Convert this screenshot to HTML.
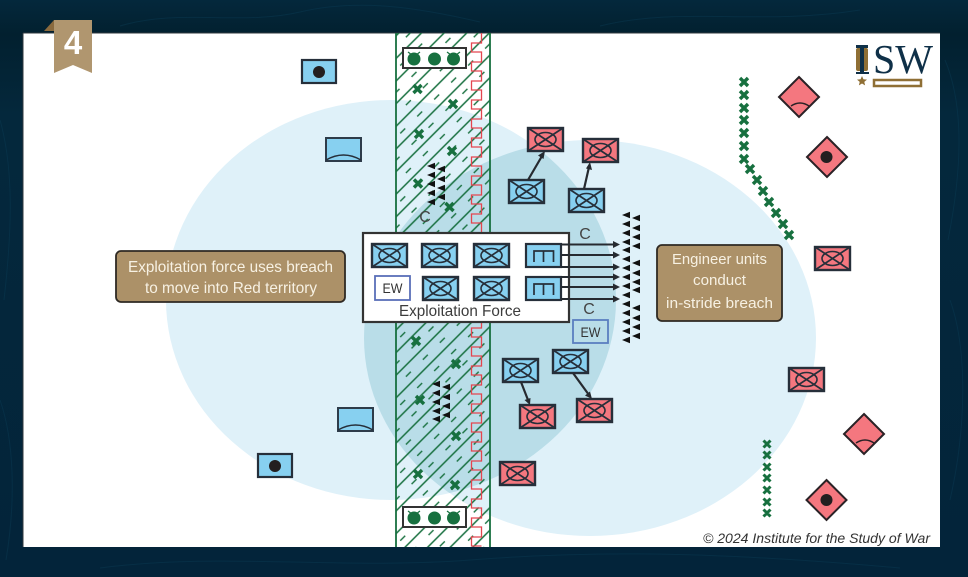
<!DOCTYPE html>
<html>
<head>
<meta charset="utf-8">
<style>
html,body{margin:0;padding:0;background:#03263a;width:968px;height:577px;overflow:hidden}
svg{display:block}
text{font-family:"Liberation Sans",sans-serif}
</style>
</head>
<body>
<svg width="968" height="577" viewBox="0 0 968 577" xmlns="http://www.w3.org/2000/svg">
<defs>
<linearGradient id="bg" x1="0" y1="0" x2="0" y2="1">
  <stop offset="0" stop-color="#04283c"/><stop offset="0.06" stop-color="#02202f"/><stop offset="0.2" stop-color="#04283c"/><stop offset="1" stop-color="#03243a"/>
</linearGradient>
<clipPath id="ov"><ellipse cx="391" cy="300" rx="225" ry="200"/></clipPath>
<pattern id="hatch" patternUnits="userSpaceOnUse" width="24" height="16" patternTransform="translate(396 33) rotate(-45)">
  <path d="M0 2H24" stroke="#17703f" stroke-width="1.4" fill="none"/>
  <path d="M4 10H11" stroke="#17703f" stroke-width="1.4" fill="none"/>
</pattern>
<g id="u">
  <rect x="0" y="0" width="35" height="23" stroke="#262f3a" stroke-width="2.4"/>
  <path d="M0 0L35 23M35 0L0 23" stroke="#262f3a" stroke-width="1.7" fill="none"/>
  <ellipse cx="17.5" cy="11.5" rx="10.5" ry="7" fill="none" stroke="#262f3a" stroke-width="1.6"/>
</g>
<g id="e">
  <rect x="0" y="0" width="35" height="23" fill="#87d0f0" stroke="#262f3a" stroke-width="2.2"/>
  <path d="M8 18V7H27.500V18M17.500 7V18" fill="none" stroke="#262f3a" stroke-width="1.7"/>
</g>
<g id="m">
  <rect x="0" y="0" width="63" height="20" fill="#fff" stroke="#333" stroke-width="2"/>
  <circle cx="11" cy="11" r="6.500" fill="#17703f"/><circle cx="31.500" cy="11" r="6.500" fill="#17703f"/><circle cx="50.500" cy="11" r="6.500" fill="#17703f"/>
  <path d="M5 4L9 7M17 4L13 7M44 4L48 7M57 4L53 7" stroke="#17703f" stroke-width="1.2" fill="none"/>
</g>
<g id="d">
  <path d="M0 -20L20 0L0 20L-20 0Z" fill="#f4777f" stroke="#2a2226" stroke-width="2"/>
</g>
</defs>

<rect width="968" height="577" fill="url(#bg)"/>
<g fill="none" stroke="#0d3f57" stroke-width="1" opacity=".4">
  <path d="M0 120C14 170 12 230 4 300"/>
  <path d="M0 400C14 440 16 500 6 560"/>
  <path d="M945 60C966 110 960 180 948 240"/>
  <path d="M950 300C968 350 966 430 950 500"/>
  <path d="M100 568C220 552 340 570 470 560S720 552 900 568"/>
  <path d="M120 26C180 8 240 26 300 12S420 8 480 22"/>
  <path d="M600 26C680 6 760 26 860 10"/>
</g>

<rect x="23" y="33" width="917" height="514" fill="#fff"/>
<path d="M23 33H940" stroke="#30383e" stroke-width="1"/>
<path d="M23 33V547" stroke="#30383e" stroke-width="1"/>

<ellipse cx="391" cy="300" rx="225" ry="200" fill="#dff1f9"/>
<ellipse cx="590" cy="338" rx="226" ry="198" fill="#dff1f9"/>
<ellipse cx="590" cy="338" rx="226" ry="198" fill="#b9dde8" clip-path="url(#ov)"/>

<!-- breach strip -->
<rect x="396" y="33" width="94" height="514" fill="url(#hatch)"/>
<path d="M396 33V547M490 33V547" stroke="#17703f" stroke-width="1.8" fill="none"/>
<path d="M481.500 33v10h-10v9h10v10h-10v9h10v10h-10v9h10v10h-10v9h10v10h-10v9h10v10h-10v9h10v10h-10v9h10v10h-10v9h10v10h-10v9h10v10h-10v9h10v10h-10v9h10v10h-10v9h10v10h-10v9h10v10h-10v9h10v10h-10v9h10v10h-10v9h10v10h-10v9h10v10h-10v9h10v10h-10v9h10v10h-10v9h10v10h-10v9h10v10h-10v9h10v10h-10v9h10v10h-10v9h10v10h-10v9h10v10h-10v9h10v10h-10v9h10" fill="none" stroke="#e4454f" stroke-width="1.3"/>

<use href="#m" x="403" y="48"/>
<use href="#m" x="403" y="507"/>

<!-- strip mines -->
<path d="M413.500 85l8 8m0 -8l-8 8M449 100l8 8m0 -8l-8 8M415 130l8 8m0 -8l-8 8M448 147l8 8m0 -8l-8 8M414 179.500l8 8m0 -8l-8 8M445.500 203l8 8m0 -8l-8 8M412 337l8 8m0 -8l-8 8M452 360l8 8m0 -8l-8 8M416 396l8 8m0 -8l-8 8M452 432l8 8m0 -8l-8 8M414 470l8 8m0 -8l-8 8M451 481l8 8m0 -8l-8 8" stroke="#17703f" stroke-width="3.400" fill="none"/>

<!-- right mines -->
<path d="M740 78l8 8m0 -8l-8 8M740 91l8 8m0 -8l-8 8M740 104l8 8m0 -8l-8 8M740 116l8 8m0 -8l-8 8M740 129l8 8m0 -8l-8 8M740 142l8 8m0 -8l-8 8M740 155l8 8m0 -8l-8 8M746 165l8 8m0 -8l-8 8M753 176l8 8m0 -8l-8 8M759 187l8 8m0 -8l-8 8M765 198l8 8m0 -8l-8 8M772 209l8 8m0 -8l-8 8M779 220l8 8m0 -8l-8 8M785 231l8 8m0 -8l-8 8" stroke="#17703f" stroke-width="3.400" fill="none"/>
<path d="M763.500 440.500l7 7m0 -7l-7 7M763.500 451.500l7 7m0 -7l-7 7M763.500 463.500l7 7m0 -7l-7 7M763.500 474.500l7 7m0 -7l-7 7M763.500 486.500l7 7m0 -7l-7 7M763.500 498.500l7 7m0 -7l-7 7M763.500 509.500l7 7m0 -7l-7 7" stroke="#17703f" stroke-width="3" fill="none"/>

<!-- triangles -->
<path fill="#111" d="M427 166l8-3.200v6.400ZM427 175l8-3.200v6.400ZM427 184l8-3.200v6.400ZM427 193l8-3.200v6.400ZM427 202l8-3.200v6.400ZM437 169l8-3.200v6.400ZM437 179l8-3.200v6.400ZM437 188l8-3.200v6.400ZM437 197l8-3.200v6.400Z"/>
<path fill="#111" d="M432 384l8-3.200v6.400ZM432 393l8-3.200v6.400ZM432 402l8-3.200v6.400ZM432 411l8-3.200v6.400ZM432 419l8-3.200v6.400ZM442 387l8-3.200v6.400ZM442 397l8-3.200v6.400ZM442 406l8-3.200v6.400ZM442 415l8-3.200v6.400Z"/>

<!-- blue posts -->
<rect x="302" y="60" width="34" height="23" fill="#87d0f0" stroke="#262f3a" stroke-width="2.200"/>
<circle cx="319" cy="72" r="6" fill="#231f20"/>
<rect x="258" y="454" width="34" height="23" fill="#87d0f0" stroke="#262f3a" stroke-width="2.200"/>
<circle cx="275" cy="466" r="6" fill="#231f20"/>
<rect x="326" y="138" width="35" height="23" fill="#87d0f0" stroke="#2e3c4a" stroke-width="2"/>
<path d="M326 160Q343.500 150 361 160" fill="none" stroke="#262f3a" stroke-width="1.500"/>
<rect x="338" y="408" width="35" height="23" fill="#87d0f0" stroke="#2e3c4a" stroke-width="2"/>
<path d="M338 430Q355.500 420 373 430" fill="none" stroke="#262f3a" stroke-width="1.500"/>

<!-- force box -->
<rect x="363" y="233" width="206" height="89" fill="#fff" stroke="#333" stroke-width="2.200"/>
<use href="#u" x="372" y="244" fill="#87d0f0"/>
<use href="#u" x="422" y="244" fill="#87d0f0"/>
<use href="#u" x="474" y="244" fill="#87d0f0"/>
<use href="#u" x="423" y="277" fill="#87d0f0"/>
<use href="#u" x="474" y="277" fill="#87d0f0"/>
<use href="#e" x="526" y="244"/>
<use href="#e" x="526" y="277"/>
<rect x="375" y="276" width="35" height="24" fill="#fff" stroke="#5a6fb8" stroke-width="1.800"/>
<text x="392.500" y="293" font-size="14" fill="#333" text-anchor="middle" textLength="20" lengthAdjust="spacingAndGlyphs">EW</text>
<text x="399" y="316" font-size="16" fill="#3c3c3c" textLength="122" lengthAdjust="spacingAndGlyphs">Exploitation Force</text>

<!-- right triangles -->
<path fill="#111" d="M622 215l8-3.200v6.400ZM622 224l8-3.200v6.400ZM622 233l8-3.200v6.400ZM622 242l8-3.200v6.400ZM622 250l8-3.200v6.400ZM622 259l8-3.200v6.400ZM622 268l8-3.200v6.400ZM622 277l8-3.200v6.400ZM622 286l8-3.200v6.400ZM622 295l8-3.200v6.400ZM622 304l8-3.200v6.400ZM622 313l8-3.200v6.400ZM622 322l8-3.200v6.400ZM622 331l8-3.200v6.400ZM622 340l8-3.200v6.400Z"/>
<path fill="#111" d="M632 218l8-3.200v6.400ZM632 228l8-3.200v6.400ZM632 237l8-3.200v6.400ZM632 246l8-3.200v6.400ZM632 263l8-3.200v6.400ZM632 273l8-3.200v6.400ZM632 282l8-3.200v6.400ZM632 290l8-3.200v6.400ZM632 308l8-3.200v6.400ZM632 318l8-3.200v6.400ZM632 327l8-3.200v6.400ZM632 336l8-3.200v6.400Z"/>

<!-- force arrows -->
<path d="M561 244.500H614M561 255H614M561 267H614M561 277H614M561 287H614M561 299H614" stroke="#262a30" stroke-width="2" fill="none"/>
<path fill="#262a30" d="M620 244.500l-7-3.500v7ZM620 255l-7-3.500v7ZM620 267l-7-3.500v7ZM620 277l-7-3.500v7ZM620 287l-7-3.500v7ZM620 299l-7-3.500v7Z"/>

<text x="425" y="222" font-size="16" fill="#444" text-anchor="middle">C</text>
<text x="585" y="239" font-size="16" fill="#444" text-anchor="middle">C</text>
<text x="589" y="314" font-size="16" fill="#444" text-anchor="middle">C</text>
<rect x="573" y="320" width="35" height="23" fill="none" stroke="#5a7fc0" stroke-width="1.800"/>
<text x="590.500" y="337" font-size="14" fill="#333" text-anchor="middle" textLength="20" lengthAdjust="spacingAndGlyphs">EW</text>

<!-- units -->
<use href="#u" x="528" y="128" fill="#f4777f"/>
<use href="#u" x="583" y="139" fill="#f4777f"/>
<use href="#u" x="509" y="180" fill="#87d0f0"/>
<use href="#u" x="569" y="189" fill="#87d0f0"/>
<use href="#u" x="503" y="359" fill="#87d0f0"/>
<use href="#u" x="553" y="350" fill="#87d0f0"/>
<use href="#u" x="520" y="405" fill="#f4777f"/>
<use href="#u" x="577" y="399" fill="#f4777f"/>
<use href="#u" x="500" y="462" fill="#f4777f"/>
<use href="#u" x="815" y="247" fill="#f4777f"/>
<use href="#u" x="789" y="368" fill="#f4777f"/>

<!-- unit arrows -->
<path d="M528 180L542 156M584 189L589 167M521 382L528 400M573 373L589 395" stroke="#262a30" stroke-width="2.200" fill="none"/>
<path fill="#262a30" d="M545 151l-1.500 8-5.500-3.500ZM590 162l2 8-6-1.500ZM530 405l-5.500-5 6-2ZM592 399l-7-3.500 5-4Z"/>

<!-- diamonds -->
<use href="#d" x="799" y="97"/>
<path d="M791 106Q800 100 809 106" fill="none" stroke="#2a2226" stroke-width="1.500"/>
<use href="#d" x="827" y="157"/>
<circle cx="826.500" cy="157" r="6" fill="#231f20"/>
<use href="#d" x="864" y="434"/>
<path d="M856 443Q865 437 874 443" fill="none" stroke="#2a2226" stroke-width="1.500"/>
<use href="#d" x="826.500" y="500"/>
<circle cx="826.500" cy="500" r="6" fill="#231f20"/>

<!-- callouts -->
<rect x="116" y="251" width="229" height="51" rx="5" fill="#ac9168" stroke="#2f2a24" stroke-width="1.800"/>
<text x="128" y="272" font-size="16" fill="#f7f1e3" textLength="205" lengthAdjust="spacingAndGlyphs">Exploitation force uses breach</text>
<text x="145" y="293" font-size="16" fill="#f7f1e3" textLength="172" lengthAdjust="spacingAndGlyphs">to move into Red territory</text>

<rect x="657" y="245" width="125" height="76" rx="5" fill="#ac9168" stroke="#2f2a24" stroke-width="1.800"/>
<text x="672" y="264" font-size="15" fill="#f7f1e3" textLength="95" lengthAdjust="spacingAndGlyphs">Engineer units</text>
<text x="693" y="285" font-size="15" fill="#f7f1e3" textLength="53" lengthAdjust="spacingAndGlyphs">conduct</text>
<text x="666" y="308" font-size="15" fill="#f7f1e3" textLength="107" lengthAdjust="spacingAndGlyphs">in-stride breach</text>

<!-- ribbon -->
<path d="M44 31L54 20V31Z" fill="#8a6a3e"/>
<path d="M54 20H92V73L73 65L54 73Z" fill="#b0966f"/>
<text x="73" y="54" font-size="33" font-weight="bold" fill="#fff" text-anchor="middle">4</text>

<!-- logo -->
<rect x="856" y="45" width="12" height="3" fill="#0f3048"/>
<rect x="856" y="48" width="12" height="23" rx="2" fill="#8f6f35"/>
<rect x="860" y="46" width="4" height="27" fill="#0f3048"/>
<rect x="856" y="72" width="13" height="2" fill="#0f3048"/>
<path d="M862 76l1.400 3.300 3.600.3-2.700 2.300.8 3.500-3.100-1.900-3.100 1.900.8-3.500-2.700-2.300 3.600-.3Z" fill="#8f6f35"/>
<text x="873" y="73" font-size="41" fill="#0f3048" style="font-family:'Liberation Serif',serif" textLength="60" lengthAdjust="spacingAndGlyphs">SW</text>
<rect x="874" y="80" width="47" height="6" fill="#fff" stroke="#8f6f35" stroke-width="2.500"/>

<text x="703" y="543" font-size="14" font-style="italic" fill="#333" textLength="227" lengthAdjust="spacingAndGlyphs">© 2024 Institute for the Study of War</text>
</svg>
</body>
</html>
